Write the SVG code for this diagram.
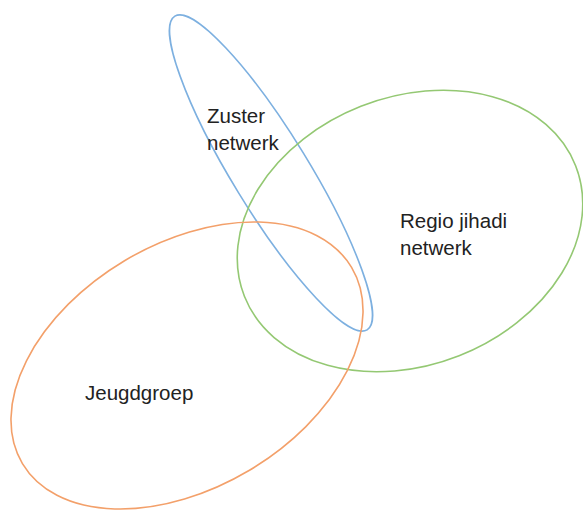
<svg xmlns="http://www.w3.org/2000/svg" width="583" height="510" viewBox="0 0 583 510">
<style>
.shape{fill:none;stroke-width:1.6}
.blue{stroke:#7DB0E0}
.green{stroke:#94C873}
.orange{stroke:#F3A06A}
.lbl{font-family:"Liberation Sans",Arial,sans-serif;font-size:20.5px;fill:#222}
</style>
<rect width="583" height="510" fill="#fff"/>
<g id="zuster">
<ellipse class="shape blue" cx="271" cy="173" rx="184" ry="38" transform="rotate(58.5 271 173)"/>
<text class="lbl" x="207" y="123">Zuster</text>
<text class="lbl" x="207" y="150">netwerk</text>
</g>
<g id="regio">
<ellipse class="shape green" cx="410" cy="231" rx="178" ry="134" transform="rotate(-21.5 410 231)"/>
<text class="lbl" x="400" y="228">Regio jihadi</text>
<text class="lbl" x="400" y="255">netwerk</text>
</g>
<g id="jeugd">
<ellipse class="shape orange" cx="187" cy="365.5" rx="191.6" ry="122" transform="rotate(-30.8 187 365.5)"/>
<text class="lbl" x="85" y="400">Jeugdgroep</text>
</g>
<g id="connectors"></g>
</svg>
